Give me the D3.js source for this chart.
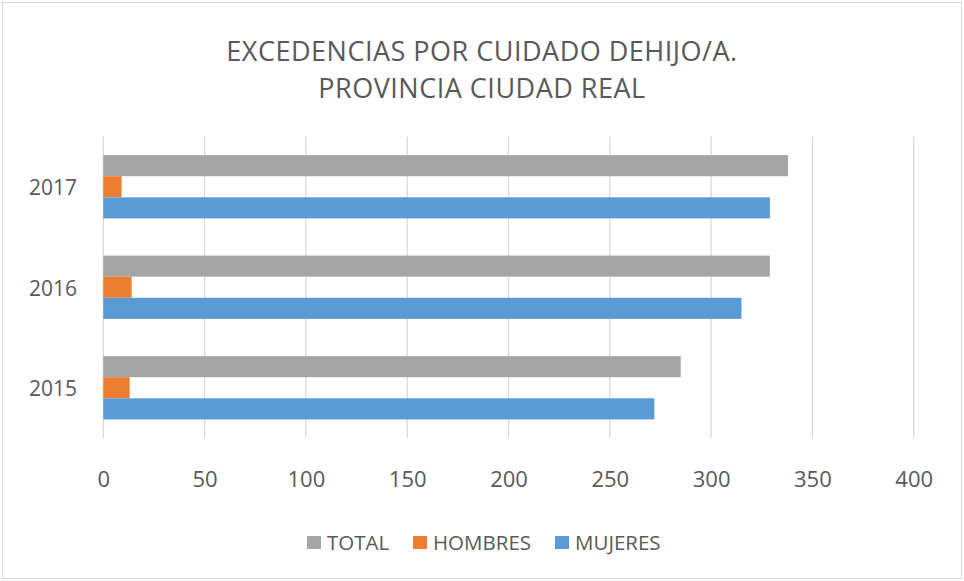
<!DOCTYPE html>
<meta charset="utf-8">
<head>
    <title>Excedencias por cuidado de hijo/a</title>
    <style>
        body { margin: 0; background: #fff; }
        text { font-family: "Open Sans", sans-serif; fill: #595959; }
    </style>
</head>
<body>
<script src="https://d3js.org/d3.v7.min.js"></script>
<svg id="chart" width="964" height="581"></svg>

<script>
    // data
    var years = ["2017", "2016", "2015"],
        series = ["TOTAL", "HOMBRES", "MUJERES"],
        total = [338, 329, 285],
        hombres = [9, 14, 13],
        mujeres = [329, 315, 272],
        ticks = [0, 50, 100, 150, 200, 250, 300, 350, 400],
        colors = ["#a5a5a5", "#ed7d31", "#5b9bd5"];

    var values = [total, hombres, mujeres];

    var svg = d3.select("#chart"),
        width = +svg.attr("width"),
        height = +svg.attr("height"),
        margin = {top: 136.5, right: 50, bottom: 143, left: 103.3};

    // outer border
    svg.append("rect")
        .attr("x", 2.5).attr("y", 2.5)
        .attr("width", width - 5).attr("height", height - 5)
        .attr("fill", "#fff")
        .attr("stroke", "#d9d9d9");

    var x = d3.scaleLinear()
        .domain([0, 400])
        .range([margin.left, 913.7]);

    var y = d3.scaleBand()
        .domain(years)
        .range([margin.top, height - margin.bottom])
        .paddingInner(0.37)
        .paddingOuter(0.185);

    var ySub = d3.scaleBand()
        .domain(series)
        .range([0, y.bandwidth()]);

    // gridlines
    svg.append("g")
        .selectAll("line")
        .data(ticks)
        .join("line")
        .attr("x1", d => x(d)).attr("x2", d => x(d))
        .attr("y1", margin.top).attr("y2", height - margin.bottom)
        .attr("stroke", "#d9d9d9")
        .attr("stroke-width", 1.3);

    // bars
    series.forEach(function (s, i) {
        svg.append("g")
            .attr("fill", colors[i])
            .selectAll("rect")
            .data(years)
            .join("rect")
            .attr("x", x(0))
            .attr("y", d => y(d) + ySub(s))
            .attr("width", (d, j) => x(values[i][j]) - x(0))
            .attr("height", ySub.bandwidth());
    });

    // x axis labels
    var xAxis = d3.axisBottom(x).tickValues(ticks).tickSize(0).tickPadding(0);
    var gx = svg.append("g")
        .attr("transform", "translate(0," + 486.5 + ")")
        .call(xAxis);
    gx.select(".domain").remove();
    gx.selectAll("text")
        .attr("dy", 0)
        .style("font-size", "22px")
        .style("font-family", "'Open Sans', sans-serif")
        .attr("fill", "#595959");

    // y axis labels
    var yAxis = d3.axisLeft(y).tickSize(0).tickPadding(0);
    var gy = svg.append("g")
        .attr("transform", "translate(" + 77 + ",0)")
        .call(yAxis);
    gy.select(".domain").remove();
    gy.selectAll("text")
        .attr("dy", "0.4em")
        .style("font-size", "21px")
        .style("font-family", "'Open Sans', sans-serif")
        .attr("fill", "#595959");

    // title
    var title = svg.append("g");
    title.append("text")
        .attr("text-anchor", "middle")
        .attr("x", 482).attr("y", 61)
        .style("font-size", "27px")
        .style("letter-spacing", "0.5px")
        .text("EXCEDENCIAS POR CUIDADO DEHIJO/A.");
    title.append("text")
        .attr("text-anchor", "middle")
        .attr("x", 482).attr("y", 98)
        .style("font-size", "27px")
        .style("letter-spacing", "0.5px")
        .text("PROVINCIA CIUDAD REAL");

    // legend
    var legendX = [307, 413, 555];
    var legend = svg.append("g")
        .selectAll("g")
        .data(series)
        .join("g")
        .attr("transform", (d, i) => "translate(" + legendX[i] + ",536)");
    legend.append("rect")
        .attr("width", 14).attr("height", 13)
        .attr("fill", (d, i) => colors[i]);
    legend.append("text")
        .attr("x", 20).attr("y", 14)
        .style("font-size", "20.5px")
        .text(d => d);
</script>
</body>
